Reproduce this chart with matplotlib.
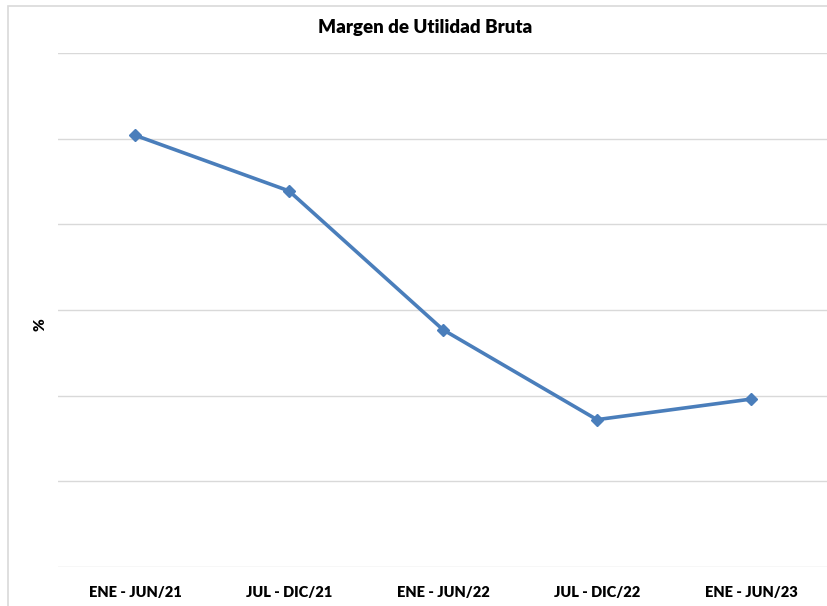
import matplotlib
matplotlib.use("Agg")
import matplotlib.pyplot as plt
from matplotlib.patches import Rectangle

# Periods and gross margin values (y axis has no labels; values read relative to gridlines)
periods = ["ENE - JUN/21", "JUL - DIC/21", "ENE - JUN/22", "JUL - DIC/22", "ENE - JUN/23"]
margin = [25.2, 21.95, 13.85, 8.6, 9.8]

plt.rcParams["font.family"] = ["Lato", "DejaVu Sans"]

fig = plt.figure(figsize=(8.28, 6.06), dpi=100)
# outer chart frame like a spreadsheet chart area
fig.patches.append(Rectangle((8 / 828, -0.1), 1.2, 1.1 - 6 / 606,
                             transform=fig.transFigure, fill=False,
                             edgecolor="#d9d9d9", lw=1.2))

ax = fig.add_axes([58 / 828, 1 - 567 / 606, 1 - 58 / 828, (567 - 53) / 606])
ax.plot(range(len(periods)), margin, color="#4A7EBB", lw=2.6,
        marker="D", markersize=6, zorder=3)

ax.set_xlim(-0.5, len(periods) - 0.5)
ax.set_ylim(0, 30)
ax.set_yticks(range(0, 31, 5))
ax.set_yticklabels([])
ax.tick_params(axis="y", length=0)
ax.grid(axis="y", color="#d9d9d9", lw=1)
ax.set_axisbelow(True)
for s in ax.spines.values():
    s.set_visible(False)

ax.set_xticks(range(len(periods)))
ax.set_xticklabels(periods, fontsize=10.5, fontweight="heavy")
ax.tick_params(axis="x", length=0, pad=14)

fig.text(40 / 828, 1 - 325 / 606, "%", rotation=90, ha="center", va="center",
         fontsize=11, fontweight="heavy")
fig.text(425 / 828, 1 - 28 / 606, "Margen de Utilidad Bruta", ha="center",
         va="center", fontsize=13.5, fontweight="heavy")

fig.savefig("out.png", dpi=100)
